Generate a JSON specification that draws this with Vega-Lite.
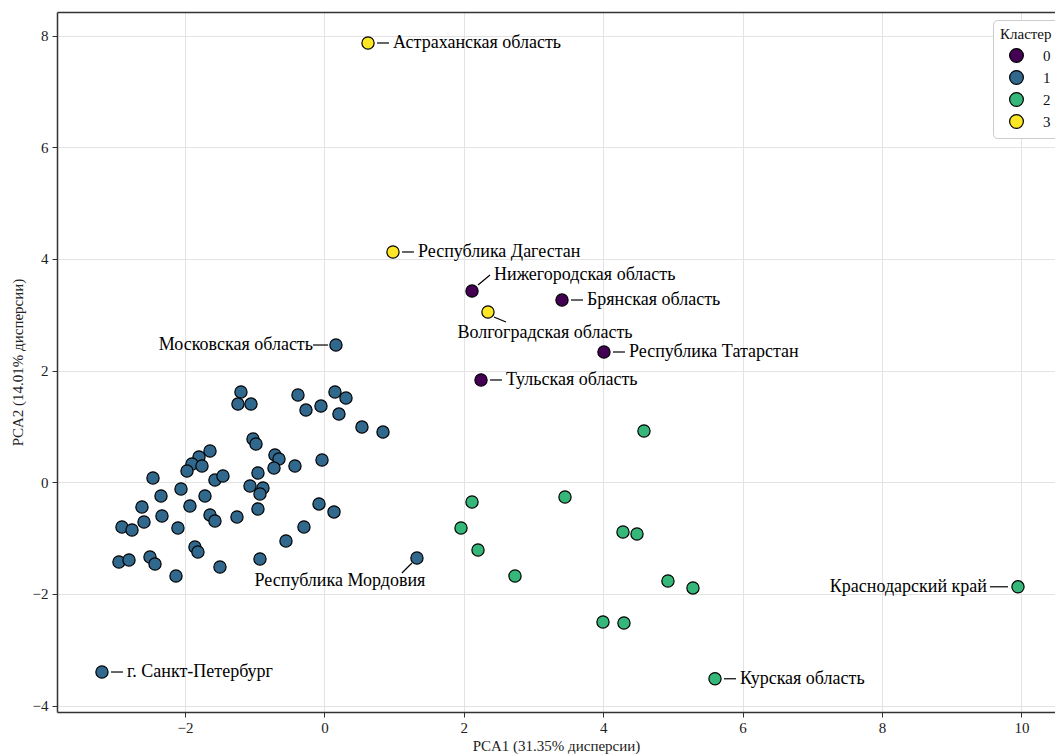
{
  "$schema": "https://vega.github.io/schema/vega-lite/v6.json",
  "width": 998,
  "height": 700,
  "autosize": {"type": "none"},
  "padding": {"left": 57, "top": 12, "right": 0, "bottom": 42},
  "background": "white",
  "config": {
    "font": "Liberation Serif",
    "view": {"stroke": null},
    "axis": {
      "labelFont": "Liberation Serif",
      "labelFontSize": 15,
      "labelColor": "#222222",
      "titleFont": "Liberation Serif",
      "titleFontSize": 15,
      "titleFontWeight": "normal",
      "titleColor": "#222222",
      "domainColor": "#333333",
      "domainWidth": 1.5,
      "tickColor": "#333333",
      "tickSize": 5,
      "tickWidth": 1,
      "gridColor": "#e3e3e3",
      "gridWidth": 1,
      "labelFlush": false
    }
  },
  "data": {
    "values": [
      {"pc1": -1.197, "pc2": 1.617, "cluster": 1},
      {"pc1": -1.24, "pc2": 1.401, "cluster": 1},
      {"pc1": -1.053, "pc2": 1.401, "cluster": 1},
      {"pc1": -0.379, "pc2": 1.563, "cluster": 1},
      {"pc1": 0.152, "pc2": 1.617, "cluster": 1},
      {"pc1": 0.31, "pc2": 1.509, "cluster": 1},
      {"pc1": -0.264, "pc2": 1.293, "cluster": 1},
      {"pc1": -0.049, "pc2": 1.365, "cluster": 1},
      {"pc1": 0.209, "pc2": 1.222, "cluster": 1},
      {"pc1": 0.539, "pc2": 0.989, "cluster": 1},
      {"pc1": 0.841, "pc2": 0.899, "cluster": 1},
      {"pc1": -1.024, "pc2": 0.775, "cluster": 1},
      {"pc1": -0.981, "pc2": 0.686, "cluster": 1},
      {"pc1": -1.641, "pc2": 0.56, "cluster": 1},
      {"pc1": -1.799, "pc2": 0.453, "cluster": 1},
      {"pc1": -1.9, "pc2": 0.328, "cluster": 1},
      {"pc1": -1.756, "pc2": 0.292, "cluster": 1},
      {"pc1": -1.971, "pc2": 0.202, "cluster": 1},
      {"pc1": -0.709, "pc2": 0.489, "cluster": 1},
      {"pc1": -0.651, "pc2": 0.417, "cluster": 1},
      {"pc1": -0.723, "pc2": 0.256, "cluster": 1},
      {"pc1": -0.422, "pc2": 0.292, "cluster": 1},
      {"pc1": -0.034, "pc2": 0.399, "cluster": 1},
      {"pc1": -0.953, "pc2": 0.167, "cluster": 1},
      {"pc1": -2.459, "pc2": 0.077, "cluster": 1},
      {"pc1": -1.57, "pc2": 0.041, "cluster": 1},
      {"pc1": -1.455, "pc2": 0.113, "cluster": 1},
      {"pc1": -1.067, "pc2": -0.066, "cluster": 1},
      {"pc1": -0.881, "pc2": -0.102, "cluster": 1},
      {"pc1": -0.924, "pc2": -0.209, "cluster": 1},
      {"pc1": -2.057, "pc2": -0.12, "cluster": 1},
      {"pc1": -2.344, "pc2": -0.245, "cluster": 1},
      {"pc1": -1.713, "pc2": -0.245, "cluster": 1},
      {"pc1": -2.617, "pc2": -0.442, "cluster": 1},
      {"pc1": -1.929, "pc2": -0.424, "cluster": 1},
      {"pc1": -2.33, "pc2": -0.603, "cluster": 1},
      {"pc1": -1.641, "pc2": -0.585, "cluster": 1},
      {"pc1": -1.57, "pc2": -0.693, "cluster": 1},
      {"pc1": -1.254, "pc2": -0.621, "cluster": 1},
      {"pc1": -0.953, "pc2": -0.478, "cluster": 1},
      {"pc1": -0.077, "pc2": -0.388, "cluster": 1},
      {"pc1": 0.138, "pc2": -0.531, "cluster": 1},
      {"pc1": -2.588, "pc2": -0.711, "cluster": 1},
      {"pc1": -2.904, "pc2": -0.8, "cluster": 1},
      {"pc1": -2.76, "pc2": -0.854, "cluster": 1},
      {"pc1": -2.101, "pc2": -0.818, "cluster": 1},
      {"pc1": -0.293, "pc2": -0.8, "cluster": 1},
      {"pc1": -0.551, "pc2": -1.051, "cluster": 1},
      {"pc1": -1.857, "pc2": -1.159, "cluster": 1},
      {"pc1": -1.814, "pc2": -1.248, "cluster": 1},
      {"pc1": -2.947, "pc2": -1.427, "cluster": 1},
      {"pc1": -2.803, "pc2": -1.391, "cluster": 1},
      {"pc1": -2.502, "pc2": -1.338, "cluster": 1},
      {"pc1": -2.43, "pc2": -1.463, "cluster": 1},
      {"pc1": -2.129, "pc2": -1.678, "cluster": 1},
      {"pc1": -1.498, "pc2": -1.517, "cluster": 1},
      {"pc1": -0.924, "pc2": -1.373, "cluster": 1},
      {"pc1": 1.328, "pc2": -1.356, "cluster": 1, "region": "Республика Мордовия"},
      {"pc1": 0.166, "pc2": 2.458, "cluster": 1, "region": "Московская область"},
      {"pc1": -3.191, "pc2": -3.397, "cluster": 1, "region": "г. Санкт-Петербург"},
      {"pc1": 4.585, "pc2": 0.919, "cluster": 2},
      {"pc1": 2.118, "pc2": -0.353, "cluster": 2},
      {"pc1": 3.452, "pc2": -0.263, "cluster": 2},
      {"pc1": 1.96, "pc2": -0.818, "cluster": 2},
      {"pc1": 2.204, "pc2": -1.212, "cluster": 2},
      {"pc1": 2.735, "pc2": -1.678, "cluster": 2},
      {"pc1": 4.284, "pc2": -0.89, "cluster": 2},
      {"pc1": 4.485, "pc2": -0.926, "cluster": 2},
      {"pc1": 4.929, "pc2": -1.767, "cluster": 2},
      {"pc1": 5.288, "pc2": -1.892, "cluster": 2},
      {"pc1": 3.997, "pc2": -2.501, "cluster": 2},
      {"pc1": 4.298, "pc2": -2.519, "cluster": 2},
      {"pc1": 9.951, "pc2": -1.871, "cluster": 2, "region": "Краснодарский край"},
      {"pc1": 5.604, "pc2": -3.518, "cluster": 2, "region": "Курская область"},
      {"pc1": 2.118, "pc2": 3.425, "cluster": 0, "region": "Нижегородская область"},
      {"pc1": 3.409, "pc2": 3.264, "cluster": 0, "region": "Брянская область"},
      {"pc1": 4.011, "pc2": 2.333, "cluster": 0, "region": "Республика Татарстан"},
      {"pc1": 2.247, "pc2": 1.832, "cluster": 0, "region": "Тульская область"},
      {"pc1": 0.626, "pc2": 7.866, "cluster": 3, "region": "Астраханская область"},
      {"pc1": 0.984, "pc2": 4.124, "cluster": 3, "region": "Республика Дагестан"},
      {"pc1": 2.347, "pc2": 3.049, "cluster": 3, "region": "Волгоградская область"}
    ]
  },
  "resolve": {"axis": {"x": "independent", "y": "independent"}},
  "layer": [
    {
      "transform": [{"filter": "isValid(datum.region)"}],
      "mark": {"type": "point", "filled": false, "stroke": "black", "strokeWidth": 1.2, "opacity": 1, "size": 1600},
      "encoding": {
        "x": {"field": "pc1", "type": "quantitative", "scale": {"domain": [-3.836, 10.482], "nice": false, "zero": false},
              "axis": {"orient": "top", "labels": false, "ticks": false, "grid": false, "title": null, "domain": true}},
        "y": {"field": "pc2", "type": "quantitative", "scale": {"domain": [-4.113, 8.421], "nice": false, "zero": false}, "axis": null},
        "shape": {
          "field": "region",
          "type": "nominal",
          "legend": null,
          "scale": {
            "domain": ["Астраханская область", "Республика Дагестан", "Брянская область", "Республика Татарстан", "Тульская область", "г. Санкт-Петербург", "Курская область", "Московская область", "Краснодарский край", "Нижегородская область", "Волгоградская область", "Республика Мордовия"],
            "range": ["M0.45,0L1.05,0", "M0.45,0L1.05,0", "M0.45,0L1.05,0", "M0.45,0L1.05,0", "M0.45,0L1.05,0", "M0.45,0L1.05,0", "M0.45,0L1.05,0", "M-1.15,0L-0.4,0", "M-1.4,0L-0.5,0", "M0.3,-0.3L0.9,-0.8", "M0.3,0.25L0.9,0.5", "M-0.25,0.25L-0.75,0.75"]
          }
        }
      }
    },
    {
      "mark": {"type": "point", "filled": true, "opacity": 1, "stroke": "black", "strokeWidth": 1.2, "size": 150},
      "encoding": {
        "x": {"field": "pc1", "type": "quantitative",
              "axis": {"orient": "bottom", "values": [-2, 0, 2, 4, 6, 8, 10], "format": "d", "title": "PCA1 (31.35% дисперсии)", "titlePadding": 3, "labelPadding": 3, "grid": true}},
        "y": {"field": "pc2", "type": "quantitative",
              "axis": {"orient": "left", "values": [-4, -2, 0, 2, 4, 6, 8], "format": "d", "title": "PCA2 (14.01% дисперсии)", "titlePadding": 7, "labelPadding": 4, "grid": true}},
        "color": {
          "field": "cluster",
          "type": "nominal",
          "scale": {"domain": [0, 1, 2, 3], "range": ["#440154", "#31688e", "#35b779", "#fde725"]},
          "legend": {
            "title": "Кластер",
            "orient": "none",
            "legendX": 936,
            "legendY": 8,
            "padding": 7,
            "fillColor": "white",
            "strokeColor": "#cccccc",
            "cornerRadius": 4,
            "titleFont": "Liberation Serif",
            "titleFontSize": 15,
            "titleFontWeight": "normal",
            "titleColor": "#111111",
            "titlePadding": 6,
            "labelFont": "Liberation Serif",
            "labelFontSize": 15,
            "labelColor": "#111111",
            "symbolType": "circle",
            "symbolSize": 190,
            "symbolStrokeColor": "black",
            "symbolStrokeWidth": 1.2,
            "symbolOpacity": 1,
            "symbolOffset": 9,
            "labelOffset": 19,
            "rowPadding": 3
          }
        }
      }
    },
    {
      "transform": [{"filter": {"field": "region", "oneOf": ["Астраханская область", "Республика Дагестан", "Брянская область", "Республика Татарстан", "Тульская область", "г. Санкт-Петербург", "Курская область"]}}],
      "mark": {"type": "text", "align": "left", "baseline": "middle", "dx": 25, "fontSize": 18, "font": "Liberation Serif", "color": "black"},
      "encoding": {
        "x": {"field": "pc1", "type": "quantitative", "axis": null},
        "y": {"field": "pc2", "type": "quantitative", "axis": null},
        "text": {"field": "region"}
      }
    },
    {
      "transform": [{"filter": {"field": "region", "equal": "Московская область"}}],
      "mark": {"type": "text", "align": "right", "baseline": "middle", "dx": -23, "fontSize": 18, "font": "Liberation Serif", "color": "black"},
      "encoding": {
        "x": {"field": "pc1", "type": "quantitative", "axis": null},
        "y": {"field": "pc2", "type": "quantitative", "axis": null},
        "text": {"field": "region"}
      }
    },
    {
      "transform": [{"filter": {"field": "region", "equal": "Краснодарский край"}}],
      "mark": {"type": "text", "align": "right", "baseline": "middle", "dx": -31, "fontSize": 18, "font": "Liberation Serif", "color": "black"},
      "encoding": {
        "x": {"field": "pc1", "type": "quantitative", "axis": null},
        "y": {"field": "pc2", "type": "quantitative", "axis": null},
        "text": {"field": "region"}
      }
    },
    {
      "transform": [{"filter": {"field": "region", "equal": "Нижегородская область"}}],
      "mark": {"type": "text", "align": "left", "baseline": "middle", "dx": 22, "dy": -16, "fontSize": 18, "font": "Liberation Serif", "color": "black"},
      "encoding": {
        "x": {"field": "pc1", "type": "quantitative", "axis": null},
        "y": {"field": "pc2", "type": "quantitative", "axis": null},
        "text": {"field": "region"}
      }
    },
    {
      "transform": [{"filter": {"field": "region", "equal": "Волгоградская область"}}],
      "mark": {"type": "text", "align": "center", "baseline": "middle", "dx": 57, "dy": 21, "fontSize": 18, "font": "Liberation Serif", "color": "black"},
      "encoding": {
        "x": {"field": "pc1", "type": "quantitative", "axis": null},
        "y": {"field": "pc2", "type": "quantitative", "axis": null},
        "text": {"field": "region"}
      }
    },
    {
      "transform": [{"filter": {"field": "region", "equal": "Республика Мордовия"}}],
      "mark": {"type": "text", "align": "center", "baseline": "middle", "dx": -77, "dy": 23, "fontSize": 18, "font": "Liberation Serif", "color": "black"},
      "encoding": {
        "x": {"field": "pc1", "type": "quantitative", "axis": null},
        "y": {"field": "pc2", "type": "quantitative", "axis": null},
        "text": {"field": "region"}
      }
    }
  ]
}
